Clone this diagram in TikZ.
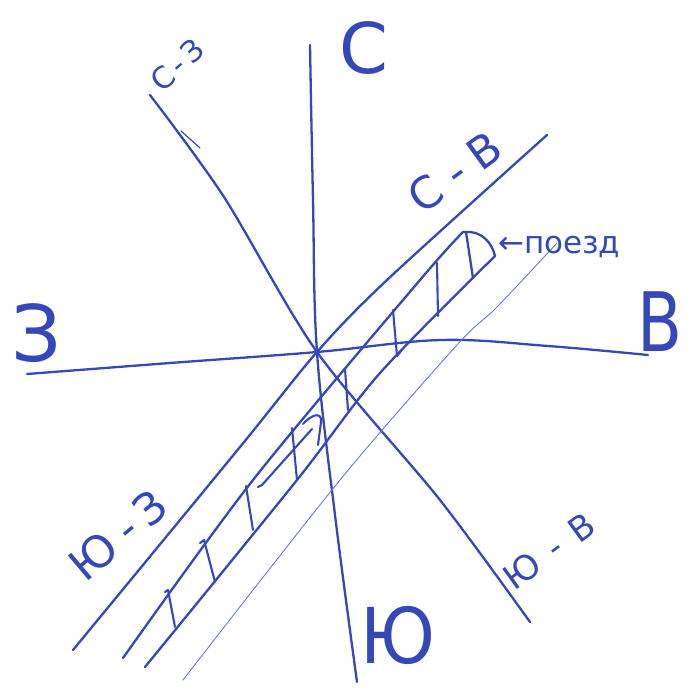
\documentclass[tikz,border=0pt]{standalone}
\usepackage{fontspec}
\setmainfont{DejaVu Sans}
\definecolor{ink}{RGB}{52,72,188}
\definecolor{thinink}{RGB}{100,125,215}
\begin{document}
\begin{tikzpicture}[x=1pt,y=-1pt,
  pen/.style={draw=ink,line width=2.3pt,line cap=round,line join=round},
  thinpen/.style={draw=thinink,line width=0.9pt,line cap=round},
  tiepen/.style={draw=ink,line width=2.1pt,line cap=round,line join=round},
  lbl/.style={text=ink,inner sep=0pt,anchor=center},
  bigf/.style={font=\fontsize{#1}{#1}\selectfont}]
\useasboundingbox[fill=white] (0,0) rectangle (691,697);

% centre
\coordinate (O) at (317,352);
% N-S
\coordinate (N) at (310,45);
\coordinate (S) at (357,682);
\draw[pen] plot[smooth,tension=0.6] coordinates {(N) (313,200) (O) (335,515) (S)};
% W-E
\coordinate (W) at (27,374);
\coordinate (E) at (648,355);
\draw[pen] plot[smooth,tension=0.6] coordinates {(W) (170,363) (O) (441,340) (548,346) (E)};
% NW-SE
\coordinate (NW) at (150,95);
\coordinate (SE) at (530,622);
\draw[pen] plot[smooth,tension=0.5] coordinates {(NW) (224,197) (O) (440,500) (SE)};
\draw[pen,line width=1.2pt] (181,131) -- (200,148);
% NE-SW
\coordinate (NE) at (547,135);
\coordinate (SW) at (73,650);
\draw[pen] plot[smooth,tension=0.5] coordinates {(NE) (387,280) (O) (240,447) (SW)};

% rails
\coordinate (UR0) at (123,658);
\coordinate (UR1) at (463,232);
\coordinate (LR0) at (145,667);
\coordinate (LR1) at (495,256);
\draw[pen] plot[smooth,tension=0.5] coordinates {(UR0) (253,480) (420,280) (UR1)};
\draw[pen] plot[smooth,tension=0.5] coordinates {(LR0) (297,480) (380,373) (LR1)};
% train
\coordinate (TL) at (466,232);
\coordinate (BL) at (473,278);
\draw[pen] (TL) -- (BL);
\draw[pen] (UR1) -- (TL) .. controls (482,231) and (492,243) .. (LR1);
% thin line
\coordinate (T0) at (183,680);
\coordinate (T1) at (557,243);
\draw[thinpen] plot[smooth,tension=0.5] coordinates {(T0) (340,480) (457,345) (497,307) (T1)};

% ties
\draw[tiepen] (437,263) -- (438,316);
\draw[tiepen] (393,310) -- (397,356) -- (401,351);
\draw[tiepen] (345,369) -- (348,410);
\draw[tiepen] (292,428) -- (297,480);
\draw[tiepen] (303,424) .. controls (310,416) and (322,410) .. (321,422) -- (318,445);
\draw[tiepen] (258,487) -- (262,485) -- (312,429);
\draw[tiepen] (246,486) -- (253,530);
\draw[tiepen] (200,543) -- (204,540) -- (215,582);
\draw[tiepen] (165,592) -- (168,590) -- (175,627);

% labels
\node[lbl,bigf=70] (lN) at (364,48) {С};
\node[lbl,bigf=78] (lW) at (37,333) {З};
\node[lbl,bigf=82] (lE) at (660,322) {\scalebox{0.8}[1]{В}};
\node[lbl,bigf=77] (lS) at (398,635) {\scalebox{0.9}[1]{Ю}};
\node[lbl,bigf=30,rotate=42] (lNW) at (177,65) {С\hspace{0.15em}-\hspace{0.15em}З};
\node[lbl,bigf=44,rotate=36] (lNE) at (455,172) {С\hspace{0.3em}-\hspace{0.3em}В};
\node[lbl,bigf=44,rotate=40] (lSW) at (118,535) {Ю\hspace{0.25em}-\hspace{0.2em}З};
\node[lbl,bigf=34,rotate=36] (lSE) at (549,551) {Ю\hspace{0.45em}-\hspace{0.45em}В};
\node[text=ink,inner sep=0pt,anchor=base west,bigf=31] (lTrain) at (498,253) {←поезд};
\end{tikzpicture}
\end{document}
